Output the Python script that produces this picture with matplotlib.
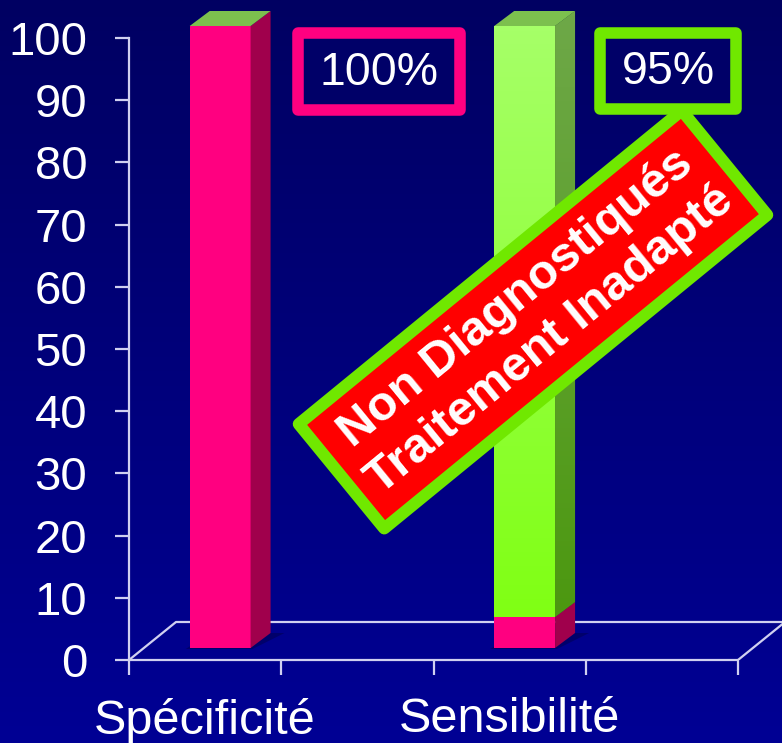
import numpy as np
import matplotlib
matplotlib.use("Agg")
import matplotlib.pyplot as plt
from matplotlib.patches import Polygon, Rectangle
from matplotlib.colors import LinearSegmentedColormap

# ----------------------- data -----------------------
categories = ["Spécificité", "Sensibilité"]
category_slots = [0.5, 2.5]          # centre of each labelled slot on the floor
pink_values = [100, 5]               # bottom segment of each stack
green_values = [0, 95]               # top segment of each stack
y_ticks = list(range(0, 101, 10))
slot_edges = [0, 1, 2, 3, 4]

# ----------------------- house style -----------------------
W_PX, H_PX, DPI = 782, 743, 100
FONT = "Liberation Sans"

PINK = "#FF0080"
PINK_SIDE = "#A0004C"
GREEN_TOP = "#7CC04E"
GREEN_FRONT = ("#A6FF68", "#80FF14")
GREEN_SIDE = ("#6EA848", "#4C9810")
AXIS_LINE = "#D0D0F0"
BOX_FILL = "#000068"
BANNER_EDGE = "#70E800"
BANNER_FILL = "#FF0000"

# pixel geometry of the front plane (image coordinates, y down)
AX_LEFT_PX, AX_RIGHT_PX = 129, 738   # x = 0 .. 4
AX_ZERO_PX, AX_TOP_PX = 660, 38      # y = 0 .. 100
FLOOR_DEPTH = (47, 38)               # floor back edge offset, px
BAR_FRONT = (15, 12)                 # bar front face offset from front plane, px
BAR_DEPTH = (20, 15)                 # bar side/top depth, px
BAR_WIDTH = 0.4

px_x = (AX_RIGHT_PX - AX_LEFT_PX) / (slot_edges[-1] - slot_edges[0])
px_y = (AX_ZERO_PX - AX_TOP_PX) / 100.0
XMAX, YMAX = 4.4, 106

fig = plt.figure(figsize=(W_PX / DPI, H_PX / DPI), dpi=DPI)

# background gradient
bg = fig.add_axes([0, 0, 1, 1], zorder=-1)
bg.imshow(np.linspace(0, 1, 256).reshape(-1, 1), aspect="auto", extent=(0, 1, 1, 0),
          cmap=LinearSegmentedColormap.from_list("bg", ["#000062", "#000094"]))
bg.set_axis_off()

ax = fig.add_axes([AX_LEFT_PX / W_PX, (H_PX - AX_ZERO_PX) / H_PX,
                   XMAX * px_x / W_PX, YMAX * px_y / H_PX])
ax.set_facecolor("none")
ax.set_xlim(0, XMAX)
ax.set_ylim(0, YMAX)
for side in ("top", "right"):
    ax.spines[side].set_visible(False)
for side in ("left", "bottom"):
    ax.spines[side].set_color(AXIS_LINE)
    ax.spines[side].set_linewidth(1.6)
ax.spines["left"].set_bounds(0, 100)
ax.spines["bottom"].set_bounds(slot_edges[0], slot_edges[-1])

ax.set_yticks(y_ticks)
ax.set_yticklabels([str(t) for t in y_ticks], fontname=FONT, fontsize=34, color="white")
ax.tick_params(axis="y", length=10, width=1.6, color=AXIS_LINE, pad=20)
ax.set_xticks(slot_edges)
ax.set_xticklabels([])
ax.tick_params(axis="x", which="major", length=11, width=1.6, color=AXIS_LINE)
ax.set_xticks(category_slots, minor=True)
ax.set_xticklabels(categories, minor=True, fontname=FONT, fontsize=35, color="white")
ax.tick_params(axis="x", which="minor", length=0, pad=27)


def dx(px):
    return px / px_x


def dy(px):
    return px / px_y


# floor outline
fdx, fdy = dx(FLOOR_DEPTH[0]), dy(FLOOR_DEPTH[1])
floor_kw = dict(color=AXIS_LINE, lw=1.6, solid_capstyle="round", zorder=1)
ax.plot([slot_edges[0], slot_edges[0] + fdx, XMAX], [0, fdy, fdy], **floor_kw)
ax.plot([slot_edges[-1], slot_edges[-1] + fdx], [0, fdy], **floor_kw)


def gradient_fill(patch, colors, y0, y1, x0, x1):
    cmap = LinearSegmentedColormap.from_list("g", list(colors))
    im = ax.imshow(np.linspace(0, 1, 128).reshape(-1, 1), cmap=cmap, aspect="auto",
                   extent=(x0, x1, y1, y0), zorder=patch.get_zorder() + 0.01)
    im.set_clip_path(patch)


sx, sy = dx(BAR_DEPTH[0]), dy(BAR_DEPTH[1])
ox, oy = dx(BAR_FRONT[0]), dy(BAR_FRONT[1])
bar_x = [s + ox for s in category_slots]

# soft shadow on the floor behind each bar
for xc in bar_x:
    x0, x1 = xc - BAR_WIDTH / 2, xc + BAR_WIDTH / 2
    ax.add_patch(Polygon([(x0 - dx(4), oy - dy(1)), (x1 + dx(2), oy - dy(1)),
                          (x1 + sx + dx(14), oy + sy), (x0 + sx, oy + sy)],
                         closed=True, fc="#000050", ec="none", alpha=0.55, zorder=1.5))

# front faces
pink_bars = ax.bar(bar_x, pink_values, width=BAR_WIDTH, bottom=oy, color=PINK, zorder=3)
green_bars = ax.bar(bar_x, green_values, width=BAR_WIDTH,
                    bottom=[p + oy for p in pink_values], color=GREEN_FRONT[1], zorder=3)
for b in green_bars:
    if b.get_height() > 0:
        gradient_fill(b, GREEN_FRONT, b.get_y() + b.get_height(), b.get_y(),
                      b.get_x(), b.get_x() + b.get_width())

# side and top faces
for i in range(len(categories)):
    x1 = bar_x[i] + BAR_WIDTH / 2
    x0 = bar_x[i] - BAR_WIDTH / 2
    base = oy
    segs = [(pink_values[i], PINK_SIDE, None), (green_values[i], GREEN_SIDE[1], GREEN_SIDE)]
    for h, col, grad in segs:
        if h <= 0:
            continue
        side = Polygon([(x1, base), (x1 + sx, base + sy), (x1 + sx, base + h + sy),
                        (x1, base + h)], closed=True, fc=col, ec="none", zorder=3)
        ax.add_patch(side)
        if grad:
            gradient_fill(side, grad, base + h + sy, base, x1, x1 + sx)
        base += h
    ax.add_patch(Polygon([(x0, base), (x1, base), (x1 + sx, base + sy), (x0 + sx, base + sy)],
                         closed=True, fc=GREEN_TOP, ec="none", zorder=3))

# ----------------------- callouts -----------------------
ov = fig.add_axes([0, 0, 1, 1], zorder=5)
ov.set_xlim(0, W_PX)
ov.set_ylim(H_PX, 0)
ov.set_axis_off()
ov.patch.set_alpha(0)


def value_box(cx, cy, w, h, edge, label):
    ov.add_patch(Rectangle((cx - w / 2, cy - h / 2), w, h, fc=BOX_FILL, ec=edge,
                           lw=8.3, joinstyle="round"))
    ov.text(cx, cy + 1.5, label, ha="center", va="center", fontname=FONT, fontsize=33.5,
            color="white")


value_box(379, 71.5, 161.5, 77, PINK, f"{pink_values[0]}%")
value_box(668, 71, 136, 76, BANNER_EDGE, f"{green_values[1]}%")

# rotated banner
cx, cy, bw, bh, ang = 533, 319.5, 495, 135, 39.3
t = np.radians(ang)
u = np.array([np.cos(t), -np.sin(t)])    # along banner (image coords)
v = np.array([np.sin(t), np.cos(t)])     # across banner
c = np.array([cx, cy])
corners = [c - u * bw / 2 - v * bh / 2, c + u * bw / 2 - v * bh / 2,
           c + u * bw / 2 + v * bh / 2, c - u * bw / 2 + v * bh / 2]
ov.add_patch(Polygon(corners, closed=True, fc=BANNER_FILL, ec=BANNER_EDGE, lw=8.6,
                     joinstyle="round"))
ov.text(cx, cy, "Non Diagnostiqués\nTraitement Inadapté", ha="center", va="center",
        rotation=ang, rotation_mode="anchor", multialignment="center",
        fontname=FONT, fontweight="bold", fontsize=35, color="white", linespacing=1.25)

fig.savefig("out.png", dpi=DPI)
